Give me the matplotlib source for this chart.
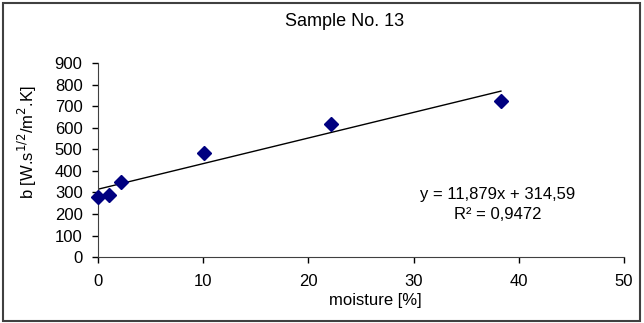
import numpy as np
import matplotlib.pyplot as plt
from matplotlib.patches import Rectangle

plt.rcParams['font.family'] = ['Liberation Sans', 'DejaVu Sans']

moisture = [0.0, 1.1, 2.2, 10.1, 22.2, 38.3]
b_values = [278, 288, 348, 484, 618, 723]
slope = 11.879
intercept = 314.59

fig = plt.figure(figsize=(6.44, 3.23), dpi=100)
ax = fig.add_axes([0.152, 0.204, 0.817, 0.601])

x_fit = np.array([min(moisture), max(moisture)])
ax.plot(x_fit, slope * x_fit + intercept, color='black', lw=1)
ax.plot(moisture, b_values, 'D', color='#000080', markersize=7, zorder=3,
        clip_on=False)

ax.set_xlim(0, 50)
ax.set_ylim(0, 900)
ax.set_xticks(range(0, 51, 10))
ax.set_yticks(range(0, 901, 100))
ax.tick_params(labelsize=12, length=4, width=1, direction='out')
ax.tick_params(axis='y', pad=7)
ax.tick_params(axis='x', pad=8)
ax.spines['top'].set_visible(False)
ax.spines['right'].set_visible(False)
ax.spines['left'].set_color('#404040')
ax.spines['bottom'].set_color('#404040')
ax.set_xlabel('moisture [%]', fontsize=12, labelpad=3, x=0.527)
fig.text(0.043, 0.56, 'b [W.s$^{1/2}$/m$^{2}$.K]', fontsize=12,
         rotation=90, ha='center', va='center')

fig.text(0.535, 0.932, 'Sample No. 13', ha='center', va='center', fontsize=13)

ax.text(0.76, 0.325, 'y = 11,879x + 314,59', transform=ax.transAxes,
        ha='center', va='center', fontsize=12)
ax.text(0.76, 0.22, 'R² = 0,9472', transform=ax.transAxes,
        ha='center', va='center', fontsize=12)

fig.patches.append(Rectangle((0.004, 0.007), 0.99, 0.985, transform=fig.transFigure,
                             fill=False, edgecolor='#404040', lw=1.5))

plt.savefig('out.png', dpi=100)
plt.close()
